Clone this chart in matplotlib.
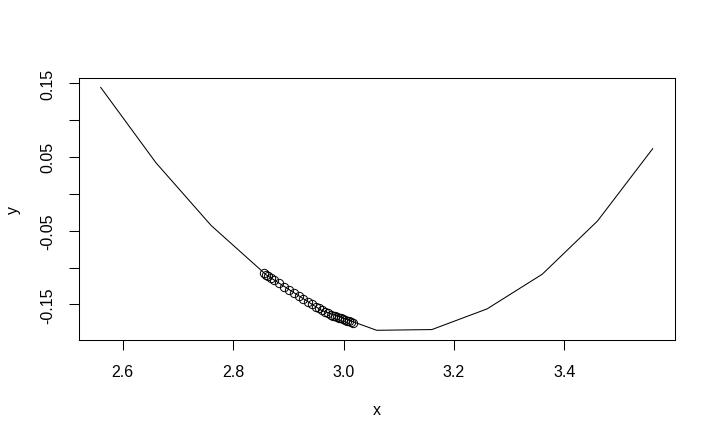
import matplotlib as mpl

mpl.use("Agg")
import matplotlib.pyplot as plt

# curve
curve_x = [2.56, 2.66, 2.76, 2.86, 2.96, 3.06, 3.16, 3.26, 3.36, 3.46, 3.56]
curve_y = [0.144, 0.042, -0.043, -0.110, -0.158, -0.185, -0.184, -0.156, -0.109, -0.037, 0.061]

# iterates drawn as open circles
pts_x = [2.855, 2.859, 2.863, 2.868, 2.874, 2.883, 2.892, 2.901, 2.910, 2.919,
         2.926, 2.935, 2.942, 2.950, 2.955, 2.961, 2.966, 2.971, 2.977, 2.980,
         2.984, 2.988, 2.991, 2.995, 2.999, 3.002, 3.006, 3.009, 3.013, 3.017]
pts_y = [-0.108, -0.110, -0.112, -0.114, -0.117, -0.121, -0.126, -0.130, -0.134, -0.139,
         -0.142, -0.146, -0.149, -0.153, -0.155, -0.158, -0.160, -0.162, -0.164, -0.165,
         -0.166, -0.167, -0.168, -0.169, -0.170, -0.171, -0.172, -0.173, -0.174, -0.175]

xticks = [2.6, 2.8, 3.0, 3.2, 3.4]
xtick_labels = ["2.6", "2.8", "3.0", "3.2", "3.4"]
yticks = [-0.15, -0.10, -0.05, 0.0, 0.05, 0.10, 0.15]
ytick_labels = ["-0.15", "", "-0.05", "", "0.05", "", "0.15"]

plt.rcParams["font.family"] = ["Liberation Sans", "DejaVu Sans"]
plt.rcParams["axes.unicode_minus"] = False

fig = plt.figure(figsize=(7.15, 4.39), dpi=100)
ax = fig.add_axes([0.110, 0.2232, 0.8337, 0.5975])

ax.plot(curve_x, curve_y, color="black", linewidth=0.75)
ax.plot(pts_x, pts_y, linestyle="none", marker="o", markersize=6,
        markerfacecolor="none", markeredgecolor="black", markeredgewidth=0.7)

ax.margins(0.04)
ax.set_xticks(xticks)
ax.set_xticklabels(xtick_labels)
ax.set_yticks(yticks)
ax.set_yticklabels(ytick_labels, rotation=90, va="center")

ax.tick_params(direction="out", length=7, width=0.75, labelsize=11.5, pad=10, colors="black")
for s in ax.spines.values():
    s.set_linewidth(0.75)

ax.set_xlabel("x", fontsize=11.5)
ax.set_ylabel("y", fontsize=11.5)
ax.xaxis.set_label_coords(0.5, -0.263)
ax.xaxis.label.set_va("center")
ax.yaxis.set_label_coords(-0.1086, 0.5)
ax.yaxis.label.set_va("center")

fig.savefig("out.png", dpi=100)
